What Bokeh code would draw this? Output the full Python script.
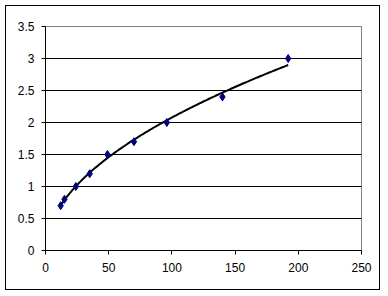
import numpy as np
from bokeh.plotting import figure
from bokeh.models import FixedTicker, CustomJSTickFormatter, Range1d
from bokeh.embed import file_html
from bokeh.resources import INLINE

x_vals = [12, 15, 24, 35, 49, 70, 96, 140, 192]
y_vals = [0.7, 0.8, 1.0, 1.2, 1.5, 1.7, 2.0, 2.4, 3.0]
x_ticks = [0, 50, 100, 150, 200, 250]
y_ticks = [0, 0.5, 1, 1.5, 2, 2.5, 3, 3.5]

# power trendline fitted to the data (as the spreadsheet does)
b, ln_a = np.polyfit(np.log(x_vals), np.log(y_vals), 1)
tx = np.linspace(min(x_vals), max(x_vals), 200)
ty = np.exp(ln_a) * tx ** b

p = figure(width=375, height=285, output_backend="svg", toolbar_location=None,
           x_range=Range1d(0, 250), y_range=Range1d(0, 3.5),
           min_border_left=39, min_border_right=20, min_border_top=20, min_border_bottom=41)
p.styles = {"margin-left": "5px", "margin-top": "5px", "border": "1px solid black"}
p.background_fill_color = "white"
p.border_fill_color = "white"
p.outline_line_color = "#808080"
p.outline_line_width = 1

p.xgrid.visible = False
p.ygrid.ticker = FixedTicker(ticks=y_ticks)
p.ygrid.grid_line_color = "black"
p.ygrid.grid_line_width = 1

fmt = CustomJSTickFormatter(code="return String(Math.round(tick*10)/10);")
for ax, t in ((p.xaxis, x_ticks), (p.yaxis, y_ticks)):
    ax.ticker = FixedTicker(ticks=t)
    ax.formatter = fmt
    ax.axis_line_color = "black"
    ax.major_tick_line_color = "black"
    ax.major_tick_out = 4
    ax.major_tick_in = 0
    ax.minor_tick_line_color = None
    ax.major_label_text_font = "Liberation Sans"
    ax.major_label_text_font_size = "12px"
    ax.major_label_text_color = "black"
p.xaxis.major_label_standoff = 8
p.yaxis.major_label_standoff = 7

p.line(tx, ty, line_color="black", line_width=2)
p.scatter(x_vals, y_vals, marker="diamond", size=8, color="#000080")

open("out.html", "w").write(file_html(p, INLINE))
